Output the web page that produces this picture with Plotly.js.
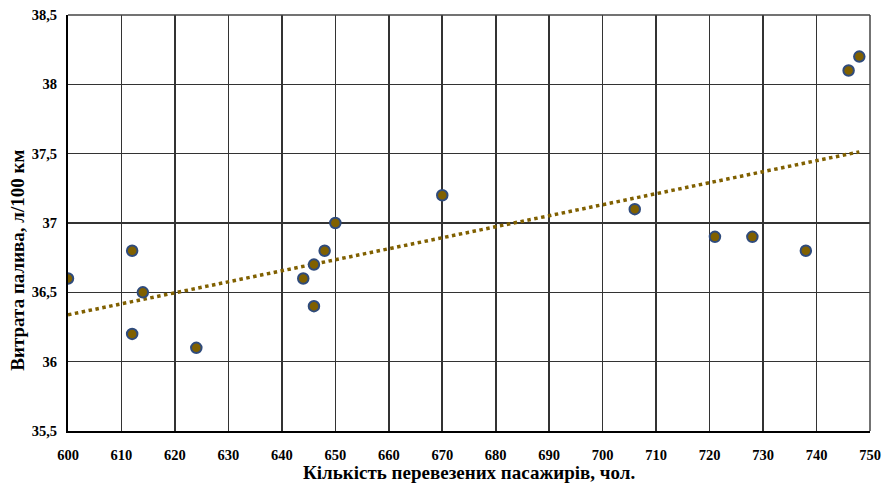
<!DOCTYPE html>
<html>
<head>
<meta charset="utf-8">
<script src="https://cdn.plot.ly/plotly-3.0.1.min.js"></script>
<style>html,body{margin:0;padding:0;background:#fff;}#chart{width:886px;height:485px;}</style>
</head>
<body>
<div id="chart"></div>
<script>
var passengers = [600, 612, 612, 614, 624, 644, 646, 646, 648, 650, 670, 706, 721, 728, 738, 746, 748];
var fuel = [36.6, 36.8, 36.2, 36.5, 36.1, 36.6, 36.7, 36.4, 36.8, 37.0, 37.2, 37.1, 36.9, 36.9, 36.8, 38.1, 38.2];
var xTitle = 'Кількість перевезених пасажирів, чол.';
var yTitle = 'Витрата палива, л/100 км';

// linear least-squares trendline computed from the data
var n = passengers.length, mx = 0, my = 0;
for (var i = 0; i < n; i++) { mx += passengers[i]; my += fuel[i]; }
mx /= n; my /= n;
var sxy = 0, sxx = 0;
for (var i = 0; i < n; i++) { sxy += (passengers[i]-mx)*(fuel[i]-my); sxx += (passengers[i]-mx)*(passengers[i]-mx); }
var b = sxy / sxx, a = my - b * mx;
var xmin = Math.min.apply(null, passengers), xmax = Math.max.apply(null, passengers);
var trendX = [xmin, xmax];
var trendY = [a + b * xmin, a + b * xmax];

var fam = '"Liberation Serif", "Times New Roman", serif';

var traces = [
  {x: trendX, y: trendY, mode: 'lines', type: 'scatter',
   line: {color: '#806000', width: 3.5, dash: 'dot'}, hoverinfo: 'skip', showlegend: false},
  {x: passengers, y: fuel, mode: 'markers', type: 'scatter',
   marker: {size: 10.5, color: '#806000', line: {color: '#2F4B7C', width: 2}}, showlegend: false}
];

var layout = {
  width: 886, height: 485,
  margin: {l: 68, r: 16, t: 15, b: 54},
  paper_bgcolor: '#fff', plot_bgcolor: '#fff',
  separators: ', ',
  showlegend: false,
  xaxis: {
    range: [600, 750], dtick: 10, tick0: 600,
    showgrid: true, gridcolor: '#333', gridwidth: 1.6,
    showline: true, linecolor: '#000', linewidth: 2, mirror: false,
    zeroline: false, ticks: 'outside', ticklen: 10, tickcolor: 'rgba(0,0,0,0)',
    tickfont: {family: fam, size: 14.5, color: '#000', weight: 'bold'}
  },
  yaxis: {
    range: [35.5, 38.5], dtick: 0.5, tick0: 35.5,
    showgrid: true, gridcolor: '#333', gridwidth: 1.6,
    showline: true, linecolor: '#000', linewidth: 2, mirror: false,
    zeroline: false, ticks: 'outside', ticklen: 6, tickcolor: 'rgba(0,0,0,0)',
    tickfont: {family: fam, size: 14.5, color: '#000', weight: 'bold'}
  },
  annotations: [
    {text: '<b>' + xTitle + '</b>', xref: 'paper', yref: 'paper', x: 0.5, y: -0.099,
     xanchor: 'center', yanchor: 'middle', showarrow: false,
     font: {family: fam, size: 19, color: '#000'}},
    {text: '<b>' + yTitle + '</b>', xref: 'paper', yref: 'paper', x: -0.064, y: 0.411,
     xanchor: 'center', yanchor: 'middle', textangle: -90, showarrow: false,
     font: {family: fam, size: 19, color: '#000'}}
  ],
  shapes: [
    {type: 'line', xref: 'paper', yref: 'paper', x0: 0, x1: 1, y0: 1, y1: 1, line: {color: '#444', width: 1.5}},
    {type: 'line', xref: 'paper', yref: 'paper', x0: 1, x1: 1, y0: 0, y1: 1, line: {color: '#444', width: 1.5}}
  ]
};

Plotly.newPlot('chart', traces, layout, {displayModeBar: false, staticPlot: true});
</script>
</body>
</html>
